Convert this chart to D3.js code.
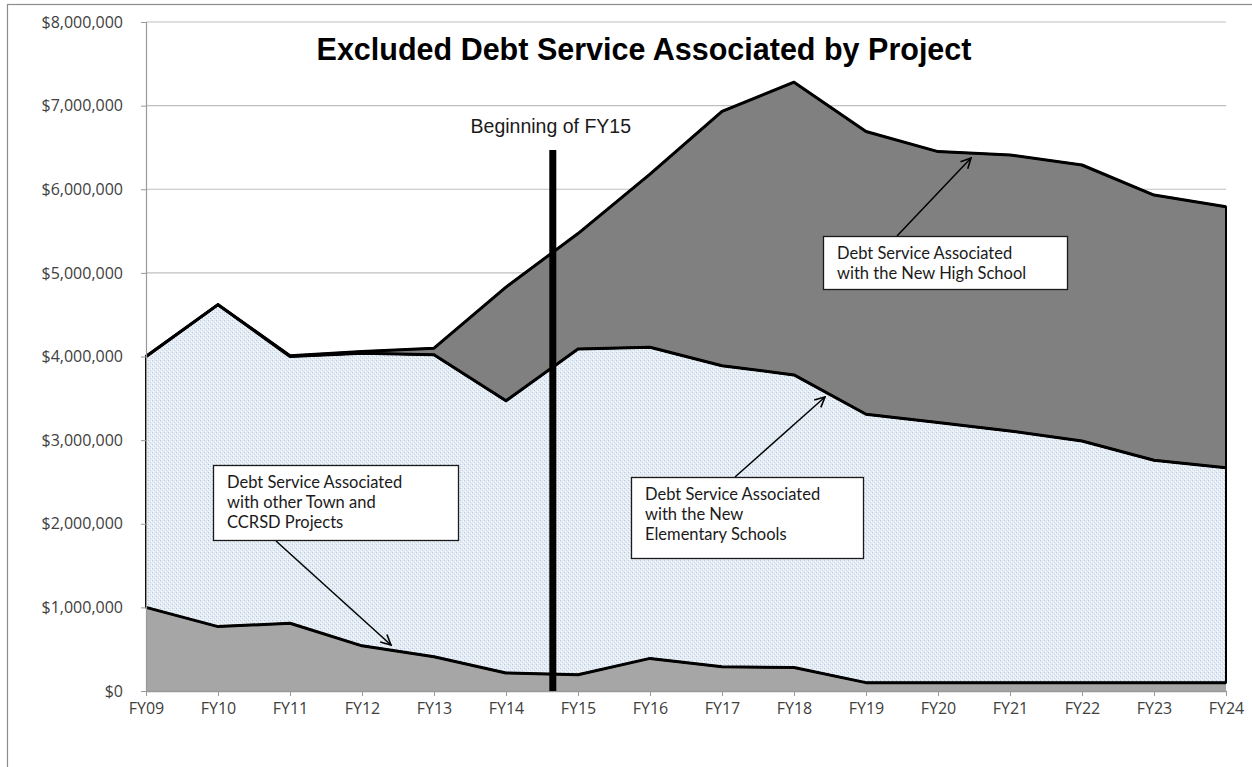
<!DOCTYPE html>
<html>
<head>
<meta charset="utf-8">
<script src="https://cdn.jsdelivr.net/npm/d3@7/dist/d3.min.js"></script>
<style>
  body { margin: 0; background: #fff; }
  svg { display: block; }
  .note { font-family: Lato, "Open Sans", sans-serif; font-size: 16.5px; fill: #1a1a1a; }
</style>
</head>
<body>
<svg width="1252" height="767"></svg>
<script>
// fiscal years on the x axis
var years = ["FY09","FY10","FY11","FY12","FY13","FY14","FY15","FY16","FY17","FY18","FY19","FY20","FY21","FY22","FY23","FY24"];

// debt service per project (dollars), stacked bottom to top
var otherProjects = [1000000, 770000, 810000, 540000, 410000, 215000, 195000, 390000, 290000, 280000, 100000, 100000, 100000, 100000, 100000, 100000];
var elementarySchools = [3000000, 3850000, 3190000, 3500000, 3610000, 3255000, 3895000, 3720000, 3600000, 3500000, 3210000, 3110000, 3010000, 2890000, 2660000, 2570000];
var highSchool = [0, 0, 10000, 20000, 80000, 1360000, 1380000, 2070000, 3040000, 3500000, 3380000, 3240000, 3300000, 3300000, 3170000, 3120000];

var yTicks = [0, 1000000, 2000000, 3000000, 4000000, 5000000, 6000000, 7000000, 8000000];

var svg = d3.select("svg"),
    width = +svg.attr("width"),
    height = +svg.attr("height");

var plotLeft = 146, plotRight = 1226, plotTop = 22, plotBottom = 691;

var x = d3.scalePoint().domain(years).range([plotLeft, plotRight]);
var y = d3.scaleLinear().domain([0, 8000000]).range([plotBottom, plotTop]);

var rows = years.map(function(fy, i) {
  return { fy: fy, other: otherProjects[i], elem: elementarySchools[i], hs: highSchool[i] };
});
var series = d3.stack().keys(["other", "elem", "hs"])(rows);

// outer chart frame
svg.append("rect")
  .attr("x", 7.5).attr("y", 4.5)
  .attr("width", 1260).attr("height", 780)
  .attr("fill", "none").attr("stroke", "#8c8c8c").attr("stroke-width", 1.2);

// dotted fill like excel's pattern
var defs = svg.append("defs");
var pat = defs.append("pattern")
  .attr("id", "dots").attr("width", 4).attr("height", 4)
  .attr("patternUnits", "userSpaceOnUse");
pat.append("rect").attr("width", 4).attr("height", 4).attr("fill", "#e3ebf4");
pat.append("rect").attr("x", 0).attr("y", 0).attr("width", 1).attr("height", 1).attr("fill", "#b9c9db");
pat.append("rect").attr("x", 2).attr("y", 2).attr("width", 1).attr("height", 1).attr("fill", "#c6d4e3");
pat.append("rect").attr("x", 1).attr("y", 3).attr("width", 1).attr("height", 1).attr("fill", "#ffffff");
pat.append("rect").attr("x", 3).attr("y", 1).attr("width", 1).attr("height", 1).attr("fill", "#ffffff");

var arrow = defs.append("marker")
  .attr("id", "arrow").attr("viewBox", "0 0 12 12")
  .attr("refX", 11).attr("refY", 6)
  .attr("markerWidth", 12).attr("markerHeight", 12)
  .attr("markerUnits", "userSpaceOnUse")
  .attr("orient", "auto");
arrow.append("path").attr("d", "M1,1 L11,6 L1,11").attr("fill", "none").attr("stroke", "#000").attr("stroke-width", 1.6);

// gridlines
svg.append("g")
  .selectAll("line")
  .data(yTicks.slice(1))
  .enter().append("line")
    .attr("x1", plotLeft).attr("x2", plotRight)
    .attr("y1", function(d) { return y(d); })
    .attr("y2", function(d) { return y(d); })
    .attr("stroke", "#bfbfbf").attr("stroke-width", 1.2);

var fills = ["#a6a6a6", "url(#dots)", "#808080"];

var area = d3.area()
  .x(function(d) { return x(d.data.fy); })
  .y0(function(d) { return y(d[0]); })
  .y1(function(d) { return y(d[1]); });

svg.append("g")
  .selectAll("path")
  .data(series)
  .enter().append("path")
    .attr("d", area)
    .attr("fill", function(d, i) { return fills[i]; })
    .attr("stroke", function(d, i) { return i == 0 ? "none" : "#000"; })
    .attr("stroke-width", 2)
    .attr("stroke-linejoin", "round");

// heavy top edge of each band
var topLine = d3.line()
  .x(function(d) { return x(d.data.fy); })
  .y(function(d) { return y(d[1]); });

svg.append("g")
  .selectAll("path")
  .data(series)
  .enter().append("path")
    .attr("d", topLine)
    .attr("fill", "none")
    .attr("stroke", "#000")
    .attr("stroke-width", 3)
    .attr("stroke-linejoin", "round");

// axes
var yAxis = svg.append("g")
  .attr("transform", "translate(" + plotLeft + ",0)")
  .call(d3.axisLeft(y).tickValues(yTicks).tickSize(5).tickPadding(18)
    .tickFormat(function(d) { return "$" + d3.format(",")(d); }));
yAxis.select(".domain").attr("stroke", "#999").attr("stroke-width", 1.2);
yAxis.selectAll(".tick line").attr("stroke", "#999");

var xAxis = svg.append("g")
  .attr("transform", "translate(0," + plotBottom + ")")
  .call(d3.axisBottom(x).tickSize(5).tickPadding(7).tickSizeOuter(0));
xAxis.select(".domain").attr("stroke", "#999").attr("stroke-width", 1.5);
xAxis.selectAll(".tick line").attr("stroke", "#999");

svg.selectAll(".tick text")
  .style("font-family", "'Open Sans', sans-serif")
  .style("font-size", "16px")
  .style("fill", "#404040");

// start of FY15 marker
var fy15x = x("FY14") + (x("FY15") - x("FY14")) * 0.65;
svg.append("line")
  .attr("x1", fy15x).attr("x2", fy15x)
  .attr("y1", 150).attr("y2", plotBottom)
  .attr("stroke", "#000").attr("stroke-width", 7);

svg.append("text")
  .attr("x", fy15x - 2).attr("y", 133)
  .attr("text-anchor", "middle")
  .style("font-family", "'Liberation Sans', Arial, sans-serif")
  .style("font-size", "19.5px")
  .style("fill", "#1a1a1a")
  .text("Beginning of FY15");

// title
svg.append("text")
  .attr("x", 644).attr("y", 60)
  .attr("text-anchor", "middle")
  .style("font-family", "'Liberation Sans', Arial, sans-serif")
  .style("font-size", "30.5px")
  .style("font-weight", "bold")
  .style("fill", "#000")
  .text("Excluded Debt Service Associated by Project");

// callouts
var notes = [
  { box: [213, 465, 245, 75], lines: ["Debt Service Associated", "with other Town and", "CCRSD Projects"], from: [276, 541], to: [391, 645] },
  { box: [631, 477, 232, 81], lines: ["Debt Service Associated", "with the New", "Elementary Schools"], from: [735, 477], to: [825, 397] },
  { box: [823, 236, 244, 53], lines: ["Debt Service Associated", "with the New High School"], from: [897, 236], to: [971, 158] }
];

notes.forEach(function(n) {
  svg.append("line")
    .attr("x1", n.from[0]).attr("y1", n.from[1])
    .attr("x2", n.to[0]).attr("y2", n.to[1])
    .attr("stroke", "#000").attr("stroke-width", 1.5)
    .attr("marker-end", "url(#arrow)");
  svg.append("rect")
    .attr("x", n.box[0] + 0.5).attr("y", n.box[1] + 0.5)
    .attr("width", n.box[2]).attr("height", n.box[3])
    .attr("fill", "#fff").attr("stroke", "#1a1a1a").attr("stroke-width", 1.3);
  svg.append("g").selectAll("text")
    .data(n.lines)
    .enter().append("text")
      .attr("class", "note")
      .attr("x", n.box[0] + 14)
      .attr("y", function(d, i) { return n.box[1] + 23 + i * 20; })
      .text(function(d) { return d; });
});
</script>
</body>
</html>
